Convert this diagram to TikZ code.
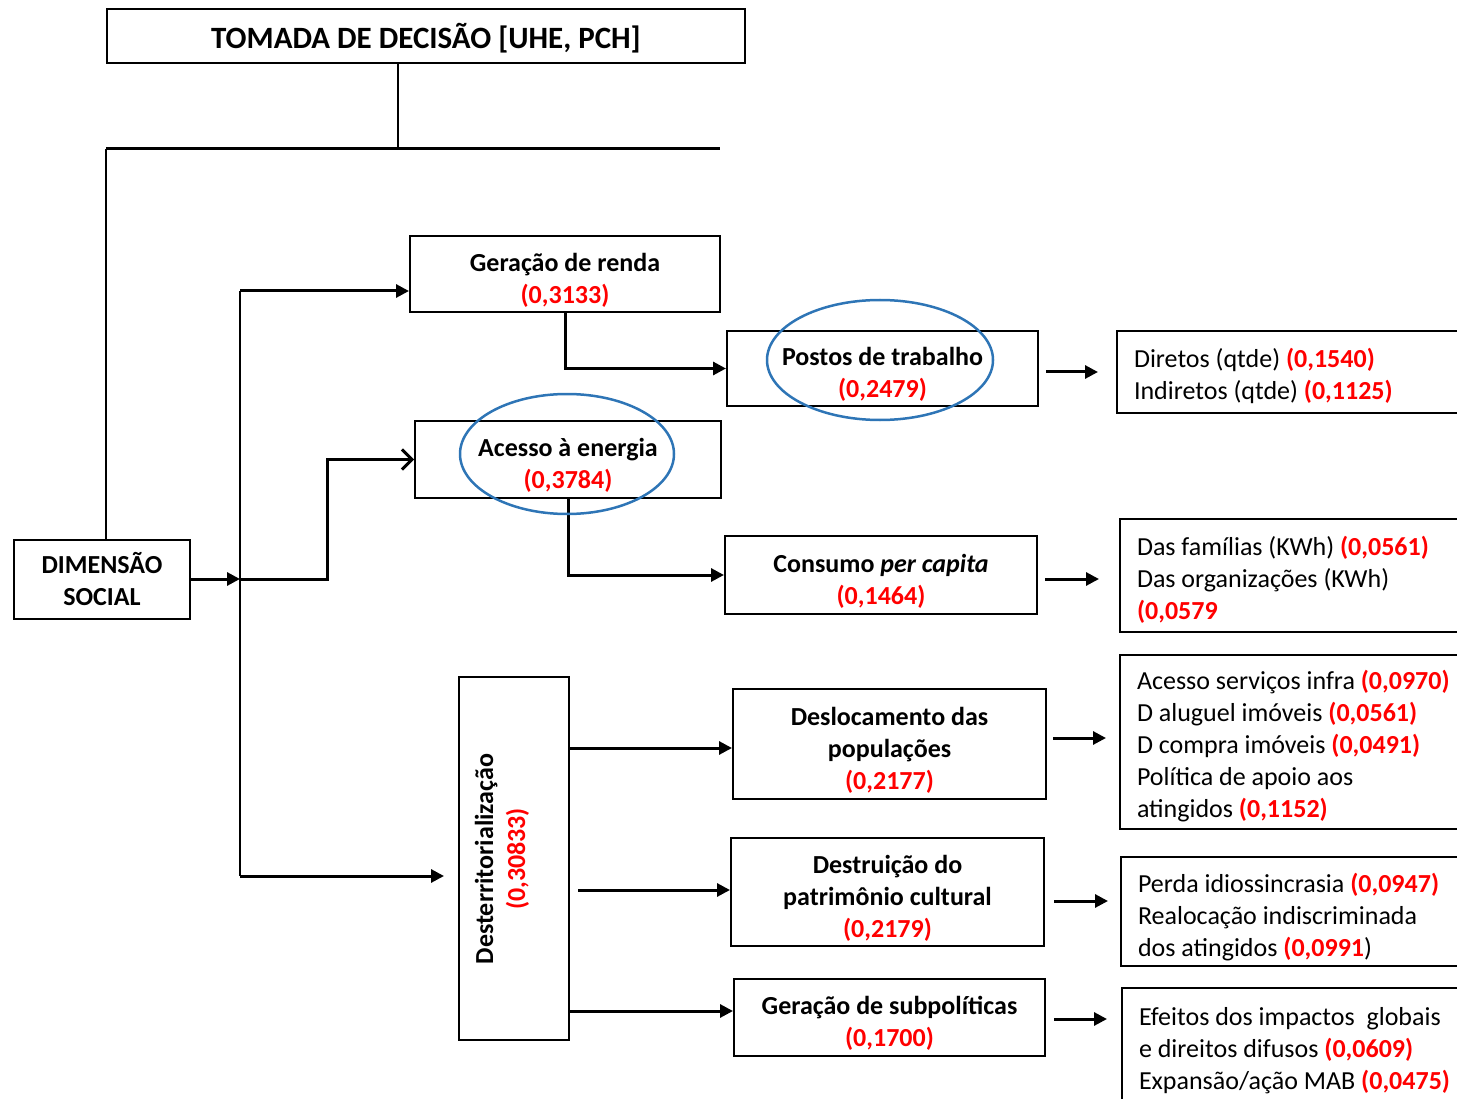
\documentclass[tikz,border=0pt]{standalone}
\usepackage{fontspec}
\setmainfont{Carlito}
\usetikzlibrary{arrows.meta}

\begin{document}
\begin{tikzpicture}[x=1pt,y=-1pt,
    box/.style={draw,line width=2pt,inner sep=0pt,align=flush center,text width=300pt,
      font=\fontsize{26}{32}\selectfont\bfseries,
      execute at begin node={\rule{0pt}{30pt}}},
    listbox/.style={draw,line width=2pt,inner xsep=17pt,inner ysep=0pt,
      anchor=west,align=flush left,text width=360pt,
      font=\fontsize{26}{32}\selectfont,
      execute at begin node={\rule{0pt}{27pt}}},
    link/.style={line width=2pt},
    conn/.style={line width=3pt,-{Triangle[length=13pt,width=13pt]}},
    ring/.style={draw=ringblue,line width=2.5pt}]
  \definecolor{ringblue}{RGB}{46,117,182}
  % Red weight
  \newcommand\val[1]{\textcolor{red}{\bfseries #1}}
  \useasboundingbox (0,0) rectangle (1457,1099);

  % Top
  \node[box,minimum width=638pt,minimum height=54pt,text width=620pt,
    execute at begin node={},
    font=\fontsize{31}{36}\selectfont\bfseries] (title) at (426,36)
    {TOMADA DE DECISÃO [UHE, PCH]};
  \node[box,minimum width=176pt,minimum height=79pt,text width={},align=center,
    execute at begin node={}] (social) at (102,579.5)
    {DIMENSÃO\\SOCIAL};
  \coordinate (split) at (398,149);
  \coordinate (barleft) at (106,149);
  \coordinate (barright) at (720,149);
  \draw[link] (title.south -| split) -- (split);
  \draw[line width=3pt] (barleft) -- (barright);
  \draw[link] (barleft) -- (barleft |- social.north);

  % Criteria
  \node[box,minimum width=310pt,minimum height=76pt] (renda) at (565,274)
    {Geração de renda\\\val{(0,3133)}};
  \node[box,minimum width=306pt,minimum height=77pt] (energia) at (568,459.5)
    {Acesso à energia\\\val{(0,3784)}};
  \node[box,minimum width=110pt,minimum height=363pt,text width=100pt] (desterr) at (514,858.5) {};
  \node[rotate=90,align=center,inner sep=0pt,
    font=\fontsize{26}{32}\selectfont\bfseries] (desterrtxt) at (502,859)
    {Desterritorialização\\\val{(0,30833)}};

  % Trunk
  \coordinate (trunk) at (240,579);
  \coordinate (trunktop) at (240,291);
  \coordinate (trunkbot) at (240,876);
  \draw[conn] (social.east |- trunk) -- (trunk);
  \draw[link] (trunktop) -- (trunkbot);
  \draw[conn] (trunktop) -- (trunktop -| renda.west);
  \draw[line width=3pt,-{Straight Barb[length=10pt,width=20pt]}]
    (trunk) -- ++(87,0) |- (energia.west);
  \draw[conn,shorten >=14pt] (trunkbot) -- (trunkbot -| desterr.west);

  % Sub-criteria
  \node[box,minimum width=311pt,minimum height=75pt] (postos) at (882.5,368.5)
    {Postos de trabalho\\\val{(0,2479)}};
  \node[box,minimum width=312pt,minimum height=78pt] (consumo) at (881,575)
    {Consumo \textit{per capita}\\\val{(0,1464)}};
  \node[box,minimum width=313pt,minimum height=110pt] (desloc) at (889.5,744)
    {Deslocamento das\\populações\\\val{(0,2177)}};
  \node[box,minimum width=313pt,minimum height=108pt] (destr) at (887.5,892)
    {Destruição do\\patrimônio cultural\\\val{(0,2179)}};
  \node[box,minimum width=311pt,minimum height=77pt] (subpol) at (889.5,1017.5)
    {Geração de subpolíticas\\\val{(0,1700)}};
  \draw[conn] (renda.south) |- (postos.west);
  \draw[conn] (energia.south) |- (consumo.west);
  \draw[conn] (desterr.east |- 0,748) -- (desloc.west |- 0,748);
  \draw[conn,shorten <=8pt] (desterr.east |- 0,890) -- (destr.west |- 0,890);
  \draw[conn] (desterr.east |- 0,1011) -- (subpol.west |- 0,1011);

  % Highlight
  \draw[ring] (880,360) ellipse [x radius=113pt, y radius=60pt];
  \draw[ring] (567,454) ellipse [x radius=107pt, y radius=60pt];

  % Indicators
  \node[listbox,minimum height=82pt] (diretos) at (1116,372)
    {Diretos (qtde) \val{(0,1540)}\\Indiretos (qtde) \val{(0,1125)}};
  \node[listbox,minimum height=113pt] (familias) at (1119,575.5)
    {Das famílias (KWh) \val{(0,0561)}\\Das organizações (KWh)\\\val{(0,0579}};
  \node[listbox,minimum height=174pt] (infra) at (1119,742)
    {Acesso serviços infra \val{(0,0970)}\\D aluguel imóveis \val{(0,0561)}\\
     D compra imóveis \val{(0,0491)}\\Política de apoio aos\\
     atingidos \val{(0,1152)}};
  \node[listbox,minimum height=109pt,
    execute at begin node={\rule{0pt}{31pt}}] (perda) at (1120,911.5)
    {Perda idiossincrasia \val{(0,0947)}\\Realocação indiscriminada\\
     dos atingidos \val{(0,0991})};
  \node[listbox,minimum height=116pt] (efeitos) at (1121,1046)
    {Efeitos dos impactos\ \ globais\\e direitos difusos \val{(0,0609)}\\
     Expansão/ação MAB \val{(0,0475)}};
  \draw[conn,shorten <=7pt,shorten >=18pt] (postos.east |- diretos) -- (diretos.west);
  \draw[conn,shorten <=7pt,shorten >=20pt] (consumo.east |- 0,579) -- (familias.west |- 0,579);
  \draw[conn,shorten <=6pt,shorten >=13pt] (desloc.east |- 0,738) -- (infra.west |- 0,738);
  \draw[conn,shorten <=9pt,shorten >=12pt] (destr.east |- 0,901) -- (perda.west |- 0,901);
  \draw[conn,shorten <=8pt,shorten >=14pt] (subpol.east |- 0,1019) -- (efeitos.west |- 0,1019);
\end{tikzpicture}
\end{document}
